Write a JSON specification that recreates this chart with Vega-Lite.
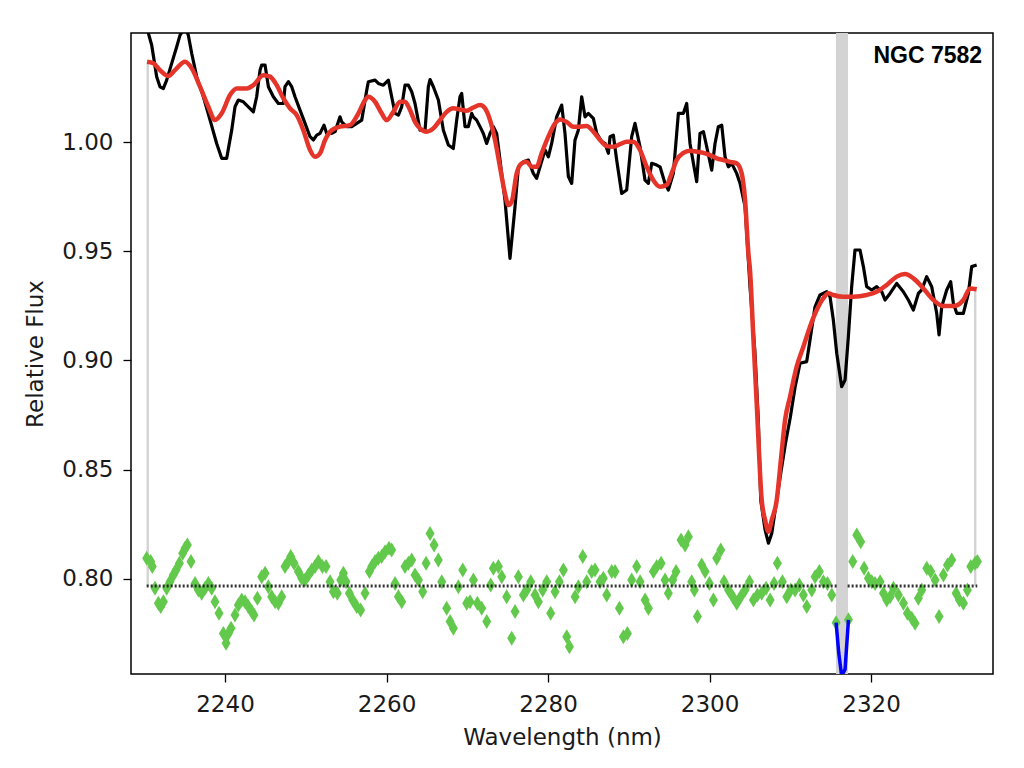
{
  "$schema": "https://vega.github.io/schema/vega-lite/v6.json",
  "width": 862,
  "height": 641,
  "autosize": "none",
  "padding": {"left": 131, "top": 33, "right": 31, "bottom": 94},
  "background": "white",
  "config": {
    "view": {"stroke": "black", "strokeWidth": 1.5},
    "axis": {
      "domain": false, "grid": false,
      "tickColor": "black", "tickWidth": 1.3, "tickSize": 8,
      "labelFont": "DejaVu Sans", "labelFontSize": 23, "labelColor": "#1a1a1a",
      "titleFont": "DejaVu Sans", "titleFontSize": 23, "titleFontWeight": "normal", "titleColor": "#1a1a1a"
    }
  },
  "datasets": {
    "spectrum": [
      {"x":2230.35,"y":1.052},{"x":2230.92,"y":1.0445},{"x":2231.54,"y":1.030},{"x":2231.95,"y":1.0254},{"x":2232.37,"y":1.0246},{"x":2232.78,"y":1.0284},{"x":2233.40,"y":1.0361},{"x":2234.02,"y":1.0437},{"x":2234.43,"y":1.049},{"x":2235.05,"y":1.0525},{"x":2235.46,"y":1.049},{"x":2235.88,"y":1.0406},{"x":2236.49,"y":1.030},{"x":2237.32,"y":1.0208},{"x":2238.15,"y":1.0101},{"x":2238.97,"y":0.9994},{"x":2239.59,"y":0.9926},{"x":2240.21,"y":0.9926},{"x":2240.83,"y":1.0055},{"x":2241.24,"y":1.0162},{"x":2241.65,"y":1.0193},{"x":2242.27,"y":1.0185},{"x":2242.89,"y":1.0162},{"x":2243.51,"y":1.0139},{"x":2243.92,"y":1.0208},{"x":2244.34,"y":1.0330},{"x":2244.54,"y":1.0353},{"x":2244.96,"y":1.0353},{"x":2245.37,"y":1.0254},{"x":2245.99,"y":1.0208},{"x":2246.61,"y":1.0177},{"x":2247.23,"y":1.0177},{"x":2247.43,"y":1.0254},{"x":2247.85,"y":1.0277},{"x":2248.26,"y":1.0254},{"x":2248.67,"y":1.0208},{"x":2249.29,"y":1.0147},{"x":2249.91,"y":1.0086},{"x":2250.53,"y":1.0025},{"x":2250.94,"y":1.0010},{"x":2251.36,"y":1.0032},{"x":2251.77,"y":1.0040},{"x":2252.26,"y":1.0078},{"x":2252.59,"y":1.0040},{"x":2253.21,"y":1.0040},{"x":2253.63,"y":1.0048},{"x":2254.24,"y":1.0116},{"x":2254.45,"y":1.0093},{"x":2255.07,"y":1.0071},{"x":2255.69,"y":1.0071},{"x":2256.31,"y":1.0086},{"x":2256.93,"y":1.0101},{"x":2257.55,"y":1.0238},{"x":2257.75,"y":1.0277},{"x":2258.58,"y":1.0284},{"x":2258.99,"y":1.0269},{"x":2259.61,"y":1.0261},{"x":2260.23,"y":1.0284},{"x":2260.64,"y":1.0208},{"x":2261.06,"y":1.0132},{"x":2261.47,"y":1.0124},{"x":2261.88,"y":1.0162},{"x":2262.29,"y":1.0261},{"x":2262.71,"y":1.0261},{"x":2263.12,"y":1.0231},{"x":2263.53,"y":1.0177},{"x":2264.15,"y":1.0055},{"x":2264.77,"y":1.0055},{"x":2265.18,"y":1.0254},{"x":2265.39,"y":1.0287},{"x":2265.80,"y":1.0254},{"x":2266.42,"y":1.0193},{"x":2267.04,"y":1.0055},{"x":2267.66,"y":0.9987},{"x":2268.27,"y":0.9971},{"x":2268.69,"y":1.0101},{"x":2269.10,"y":1.0208},{"x":2269.31,"y":1.0223},{"x":2269.72,"y":1.0071},{"x":2270.13,"y":1.0071},{"x":2270.55,"y":1.0132},{"x":2270.75,"y":1.0116},{"x":2271.16,"y":1.0101},{"x":2271.58,"y":1.0071},{"x":2271.99,"y":1.0040},{"x":2272.40,"y":0.9994},{"x":2272.82,"y":1.0040},{"x":2273.23,"y":1.0071},{"x":2273.64,"y":1.0040},{"x":2274.05,"y":0.9918},{"x":2274.67,"y":0.9735},{"x":2275.29,"y":0.9468},{"x":2275.91,"y":0.9704},{"x":2276.33,"y":0.9887},{"x":2276.94,"y":0.9910},{"x":2277.56,"y":0.9918},{"x":2278.18,"y":0.9857},{"x":2278.59,"y":0.9834},{"x":2279.01,"y":0.9887},{"x":2279.63,"y":0.9964},{"x":2280.04,"y":0.9933},{"x":2280.45,"y":0.9994},{"x":2281.07,"y":1.0116},{"x":2281.69,"y":1.0170},{"x":2282.10,"y":1.0040},{"x":2282.52,"y":0.9842},{"x":2282.93,"y":0.9811},{"x":2283.34,"y":1.0010},{"x":2283.75,"y":1.0055},{"x":2284.17,"y":1.0208},{"x":2284.58,"y":1.0116},{"x":2284.99,"y":1.0132},{"x":2285.61,"y":1.0109},{"x":2286.03,"y":1.0040},{"x":2286.65,"y":1.0002},{"x":2287.06,"y":0.9994},{"x":2287.47,"y":0.9949},{"x":2287.68,"y":1.0025},{"x":2288.09,"y":1.0032},{"x":2288.50,"y":0.9918},{"x":2289.12,"y":0.9765},{"x":2289.74,"y":0.9781},{"x":2290.36,"y":1.0025},{"x":2290.77,"y":1.0086},{"x":2291.39,"y":0.9979},{"x":2292.01,"y":0.9826},{"x":2292.42,"y":0.9811},{"x":2292.84,"y":0.9903},{"x":2293.46,"y":0.9895},{"x":2293.87,"y":0.9887},{"x":2294.49,"y":0.9811},{"x":2294.90,"y":0.9781},{"x":2295.52,"y":0.9857},{"x":2296.14,"y":1.0132},{"x":2296.76,"y":1.0132},{"x":2297.17,"y":1.0177},{"x":2297.58,"y":0.9994},{"x":2298.00,"y":0.9903},{"x":2298.41,"y":0.9819},{"x":2298.82,"y":1.0040},{"x":2299.24,"y":1.0048},{"x":2299.65,"y":0.9979},{"x":2300.27,"y":0.9872},{"x":2300.68,"y":0.9994},{"x":2301.09,"y":1.0071},{"x":2301.51,"y":1.0078},{"x":2301.92,"y":0.9933},{"x":2302.33,"y":0.9887},{"x":2302.74,"y":0.9903},{"x":2303.36,"y":0.9857},{"x":2303.78,"y":0.9811},{"x":2304.40,"y":0.9704},{"x":2304.81,"y":0.9460},{"x":2305.01,"y":0.9338},{"x":2305.63,"y":0.9033},{"x":2306.04,"y":0.8727},{"x":2306.34,"y":0.8360},{"x":2306.88,"y":0.8224},{"x":2307.29,"y":0.8163},{"x":2307.70,"y":0.8208},{"x":2308.32,"y":0.8361},{"x":2308.80,"y":0.8480},{"x":2309.40,"y":0.8620},{"x":2310.00,"y":0.8740},{"x":2310.60,"y":0.8880},{"x":2311.20,"y":0.8987},{"x":2312.03,"y":0.8995},{"x":2312.44,"y":0.9094},{"x":2313.06,"y":0.9246},{"x":2313.68,"y":0.9300},{"x":2314.51,"y":0.9315},{"x":2314.92,"y":0.9292},{"x":2315.33,"y":0.9185},{"x":2315.75,"y":0.9033},{"x":2316.36,"y":0.8880},{"x":2316.78,"y":0.8911},{"x":2317.19,"y":0.9109},{"x":2317.60,"y":0.9338},{"x":2318.01,"y":0.9506},{"x":2318.63,"y":0.9506},{"x":2319.05,"y":0.9430},{"x":2319.46,"y":0.9338},{"x":2320.08,"y":0.9323},{"x":2320.70,"y":0.9338},{"x":2321.32,"y":0.9315},{"x":2321.73,"y":0.9277},{"x":2322.35,"y":0.9307},{"x":2323.18,"y":0.9353},{"x":2324.00,"y":0.9315},{"x":2324.62,"y":0.9277},{"x":2325.24,"y":0.9231},{"x":2325.86,"y":0.9307},{"x":2326.27,"y":0.9323},{"x":2326.89,"y":0.9384},{"x":2327.51,"y":0.9338},{"x":2328.13,"y":0.9216},{"x":2328.42,"y":0.9117},{"x":2328.75,"y":0.9246},{"x":2329.37,"y":0.9323},{"x":2329.86,"y":0.9361},{"x":2330.19,"y":0.9262},{"x":2330.61,"y":0.9216},{"x":2331.43,"y":0.9216},{"x":2332.05,"y":0.9307},{"x":2332.46,"y":0.9430},{"x":2333.08,"y":0.9437}
    ],
    "model": [
      {"x":2230.35,"y":1.0368},{"x":2231.13,"y":1.0361},{"x":2231.95,"y":1.0330},{"x":2232.99,"y":1.0303},{"x":2233.81,"y":1.0330},{"x":2235.05,"y":1.0368},{"x":2235.88,"y":1.0338},{"x":2236.91,"y":1.0254},{"x":2237.94,"y":1.0162},{"x":2238.76,"y":1.0101},{"x":2239.59,"y":1.0132},{"x":2240.62,"y":1.0216},{"x":2241.45,"y":1.0246},{"x":2242.69,"y":1.0246},{"x":2243.51,"y":1.0261},{"x":2244.75,"y":1.0307},{"x":2245.58,"y":1.0300},{"x":2246.40,"y":1.0261},{"x":2247.23,"y":1.0200},{"x":2248.05,"y":1.0155},{"x":2248.88,"y":1.0124},{"x":2249.70,"y":1.0055},{"x":2250.53,"y":0.9964},{"x":2251.15,"y":0.9933},{"x":2251.77,"y":0.9949},{"x":2252.39,"y":1.0010},{"x":2253.21,"y":1.0055},{"x":2254.24,"y":1.0071},{"x":2255.48,"y":1.0078},{"x":2256.52,"y":1.0132},{"x":2257.34,"y":1.0193},{"x":2257.75,"y":1.0208},{"x":2258.58,"y":1.0185},{"x":2259.40,"y":1.0132},{"x":2260.02,"y":1.0101},{"x":2260.85,"y":1.0139},{"x":2261.68,"y":1.0185},{"x":2262.29,"y":1.0185},{"x":2262.91,"y":1.0147},{"x":2263.53,"y":1.0093},{"x":2264.15,"y":1.0063},{"x":2264.97,"y":1.0048},{"x":2265.80,"y":1.0063},{"x":2266.62,"y":1.0101},{"x":2267.45,"y":1.0139},{"x":2268.27,"y":1.0155},{"x":2269.10,"y":1.0150},{"x":2269.93,"y":1.0144},{"x":2270.75,"y":1.0159},{"x":2271.58,"y":1.0170},{"x":2272.20,"y":1.0155},{"x":2272.82,"y":1.0101},{"x":2273.44,"y":1.0010},{"x":2274.05,"y":0.9887},{"x":2274.67,"y":0.9765},{"x":2275.09,"y":0.9712},{"x":2275.50,"y":0.9727},{"x":2276.12,"y":0.9857},{"x":2276.74,"y":0.9903},{"x":2277.36,"y":0.9910},{"x":2277.98,"y":0.9887},{"x":2278.59,"y":0.9887},{"x":2279.21,"y":0.9949},{"x":2280.04,"y":1.0025},{"x":2280.87,"y":1.0086},{"x":2281.48,"y":1.0104},{"x":2282.31,"y":1.0093},{"x":2283.13,"y":1.0071},{"x":2283.96,"y":1.0071},{"x":2284.79,"y":1.0074},{"x":2285.61,"y":1.0048},{"x":2286.44,"y":1.0010},{"x":2287.26,"y":0.9982},{"x":2288.09,"y":0.9979},{"x":2288.91,"y":0.9991},{"x":2289.74,"y":1.0002},{"x":2290.57,"y":1.0002},{"x":2291.39,"y":0.9964},{"x":2292.22,"y":0.9887},{"x":2293.04,"y":0.9826},{"x":2293.87,"y":0.9796},{"x":2294.69,"y":0.9804},{"x":2295.31,"y":0.9857},{"x":2295.93,"y":0.9918},{"x":2296.76,"y":0.9951},{"x":2297.58,"y":0.9961},{"x":2298.41,"y":0.9956},{"x":2299.24,"y":0.9951},{"x":2300.06,"y":0.9941},{"x":2300.89,"y":0.9926},{"x":2301.71,"y":0.9918},{"x":2302.54,"y":0.9910},{"x":2303.36,"y":0.9903},{"x":2303.98,"y":0.9857},{"x":2304.40,"y":0.9735},{"x":2304.81,"y":0.9491},{"x":2305.01,"y":0.9414},{"x":2305.42,"y":0.9109},{"x":2305.84,"y":0.8804},{"x":2306.46,"y":0.8361},{"x":2306.88,"y":0.8269},{"x":2307.29,"y":0.8216},{"x":2307.70,"y":0.8269},{"x":2308.32,"y":0.8361},{"x":2308.85,"y":0.8550},{"x":2309.35,"y":0.8727},{"x":2309.97,"y":0.8834},{"x":2310.79,"y":0.8972},{"x":2311.62,"y":0.9063},{"x":2312.44,"y":0.9155},{"x":2313.27,"y":0.9231},{"x":2314.09,"y":0.9285},{"x":2314.71,"y":0.9308},{"x":2315.33,"y":0.9300},{"x":2316.57,"y":0.9292},{"x":2317.81,"y":0.9292},{"x":2319.46,"y":0.9300},{"x":2320.70,"y":0.9315},{"x":2321.94,"y":0.9346},{"x":2323.18,"y":0.9384},{"x":2324.21,"y":0.9396},{"x":2325.24,"y":0.9376},{"x":2326.48,"y":0.9330},{"x":2327.72,"y":0.9277},{"x":2328.95,"y":0.9249},{"x":2330.19,"y":0.9249},{"x":2331.43,"y":0.9277},{"x":2332.26,"y":0.9330},{"x":2333.08,"y":0.9326}
    ],
    "residual": [
      {"x":2230.30,"y":0.8094},{"x":2230.80,"y":0.8079},{"x":2231.00,"y":0.8056},{"x":2231.33,"y":0.7957},{"x":2231.75,"y":0.7888},{"x":2232.04,"y":0.7873},{"x":2232.37,"y":0.7895},{"x":2232.78,"y":0.7957},{"x":2233.19,"y":0.7987},{"x":2233.60,"y":0.8018},{"x":2233.94,"y":0.8040},{"x":2234.35,"y":0.8071},{"x":2234.76,"y":0.8117},{"x":2235.05,"y":0.8140},{"x":2235.34,"y":0.8155},{"x":2235.79,"y":0.8079},{"x":2236.29,"y":0.7979},{"x":2236.70,"y":0.7949},{"x":2237.11,"y":0.7934},{"x":2237.53,"y":0.7957},{"x":2237.94,"y":0.7979},{"x":2238.35,"y":0.7957},{"x":2238.76,"y":0.7895},{"x":2239.26,"y":0.7842},{"x":2239.80,"y":0.7750},{"x":2240.13,"y":0.7705},{"x":2240.42,"y":0.7750},{"x":2240.75,"y":0.7773},{"x":2241.24,"y":0.7834},{"x":2241.65,"y":0.7880},{"x":2242.07,"y":0.7903},{"x":2242.48,"y":0.7895},{"x":2242.89,"y":0.7873},{"x":2243.31,"y":0.7850},{"x":2243.59,"y":0.7834},{"x":2244.01,"y":0.7911},{"x":2244.54,"y":0.8010},{"x":2244.96,"y":0.8025},{"x":2245.37,"y":0.7964},{"x":2245.78,"y":0.7918},{"x":2246.20,"y":0.7895},{"x":2246.61,"y":0.7888},{"x":2247.02,"y":0.7918},{"x":2247.43,"y":0.8056},{"x":2247.85,"y":0.8079},{"x":2248.14,"y":0.8102},{"x":2248.55,"y":0.8071},{"x":2249.08,"y":0.8033},{"x":2249.50,"y":0.8002},{"x":2249.91,"y":0.7995},{"x":2250.32,"y":0.8018},{"x":2250.74,"y":0.8040},{"x":2251.15,"y":0.8056},{"x":2251.56,"y":0.8079},{"x":2252.06,"y":0.8056},{"x":2252.51,"y":0.8056},{"x":2253.01,"y":0.7987},{"x":2253.42,"y":0.7941},{"x":2253.91,"y":0.7934},{"x":2254.33,"y":0.7995},{"x":2254.66,"y":0.8025},{"x":2254.99,"y":0.7987},{"x":2255.40,"y":0.7934},{"x":2255.81,"y":0.7903},{"x":2256.31,"y":0.7873},{"x":2256.80,"y":0.7857},{"x":2257.34,"y":0.7934},{"x":2257.88,"y":0.8033},{"x":2258.17,"y":0.8056},{"x":2258.58,"y":0.8079},{"x":2258.99,"y":0.8094},{"x":2259.40,"y":0.8102},{"x":2259.82,"y":0.8124},{"x":2260.31,"y":0.8140},{"x":2260.64,"y":0.8132},{"x":2261.06,"y":0.7979},{"x":2261.47,"y":0.7918},{"x":2261.88,"y":0.7895},{"x":2262.29,"y":0.8056},{"x":2262.71,"y":0.8071},{"x":2263.12,"y":0.8086},{"x":2263.53,"y":0.8018},{"x":2263.95,"y":0.7995},{"x":2264.48,"y":0.7941},{"x":2264.90,"y":0.8071},{"x":2265.39,"y":0.8208},{"x":2265.89,"y":0.8155},{"x":2266.42,"y":0.8086},{"x":2266.84,"y":0.7987},{"x":2267.45,"y":0.7865},{"x":2267.87,"y":0.7804},{"x":2268.28,"y":0.7773},{"x":2268.90,"y":0.7964},{"x":2269.44,"y":0.8040},{"x":2269.93,"y":0.7888},{"x":2270.34,"y":0.7895},{"x":2270.76,"y":0.7995},{"x":2271.25,"y":0.7888},{"x":2271.79,"y":0.7865},{"x":2272.41,"y":0.7804},{"x":2272.90,"y":0.7972},{"x":2273.23,"y":0.8048},{"x":2273.85,"y":0.8056},{"x":2274.27,"y":0.8010},{"x":2274.88,"y":0.7918},{"x":2275.50,"y":0.7728},{"x":2275.92,"y":0.7850},{"x":2276.33,"y":0.8010},{"x":2276.95,"y":0.7926},{"x":2277.36,"y":0.7949},{"x":2277.86,"y":0.7987},{"x":2278.39,"y":0.7926},{"x":2278.81,"y":0.7895},{"x":2279.34,"y":0.7949},{"x":2279.84,"y":0.7987},{"x":2280.33,"y":0.7842},{"x":2280.87,"y":0.7941},{"x":2281.41,"y":0.7987},{"x":2281.90,"y":0.8040},{"x":2282.32,"y":0.7735},{"x":2282.65,"y":0.7689},{"x":2283.35,"y":0.7918},{"x":2283.76,"y":0.7964},{"x":2284.30,"y":0.8102},{"x":2284.79,"y":0.7987},{"x":2285.41,"y":0.8033},{"x":2285.82,"y":0.8040},{"x":2286.44,"y":0.7987},{"x":2286.85,"y":0.8002},{"x":2287.27,"y":0.7926},{"x":2287.89,"y":0.8033},{"x":2288.30,"y":0.8033},{"x":2288.84,"y":0.7865},{"x":2289.33,"y":0.7735},{"x":2289.83,"y":0.7750},{"x":2290.36,"y":0.7995},{"x":2290.98,"y":0.8056},{"x":2291.40,"y":0.7987},{"x":2292.02,"y":0.7903},{"x":2292.43,"y":0.7865},{"x":2293.05,"y":0.8033},{"x":2293.46,"y":0.8056},{"x":2294.00,"y":0.8071},{"x":2294.49,"y":0.7995},{"x":2294.90,"y":0.7934},{"x":2295.44,"y":0.7995},{"x":2295.85,"y":0.8033},{"x":2296.47,"y":0.8178},{"x":2296.97,"y":0.8155},{"x":2297.38,"y":0.8193},{"x":2297.79,"y":0.7987},{"x":2298.12,"y":0.7949},{"x":2298.50,"y":0.7827},{"x":2299.03,"y":0.8063},{"x":2299.45,"y":0.8033},{"x":2299.98,"y":0.7979},{"x":2300.48,"y":0.7903},{"x":2300.89,"y":0.8094},{"x":2301.39,"y":0.8132},{"x":2301.80,"y":0.7987},{"x":2302.34,"y":0.7949},{"x":2302.87,"y":0.7918},{"x":2303.37,"y":0.7888},{"x":2303.86,"y":0.7918},{"x":2304.40,"y":0.7949},{"x":2304.94,"y":0.7987},{"x":2305.43,"y":0.7903},{"x":2305.93,"y":0.7926},{"x":2306.46,"y":0.7934},{"x":2307.00,"y":0.7957},{"x":2307.50,"y":0.7903},{"x":2307.99,"y":0.7979},{"x":2308.40,"y":0.8071},{"x":2309.02,"y":0.7987},{"x":2309.56,"y":0.7918},{"x":2310.05,"y":0.7949},{"x":2310.59,"y":0.7949},{"x":2311.13,"y":0.7972},{"x":2311.62,"y":0.7926},{"x":2312.04,"y":0.7873},{"x":2312.66,"y":0.7949},{"x":2313.07,"y":0.8010},{"x":2313.60,"y":0.8033},{"x":2314.10,"y":0.7987},{"x":2314.60,"y":0.7979},{"x":2315.13,"y":0.7926},{"x":2315.67,"y":0.7799},{"x":2317.20,"y":0.7812},{"x":2317.73,"y":0.8079},{"x":2318.23,"y":0.8201},{"x":2318.72,"y":0.8170},{"x":2319.14,"y":0.8048},{"x":2319.67,"y":0.8002},{"x":2320.09,"y":0.7987},{"x":2320.50,"y":0.7979},{"x":2321.12,"y":0.7987},{"x":2321.53,"y":0.7934},{"x":2321.94,"y":0.7903},{"x":2322.36,"y":0.7918},{"x":2322.77,"y":0.7957},{"x":2323.39,"y":0.7926},{"x":2324.01,"y":0.7888},{"x":2324.50,"y":0.7842},{"x":2325.04,"y":0.7819},{"x":2325.45,"y":0.7796},{"x":2325.86,"y":0.7911},{"x":2326.28,"y":0.7949},{"x":2326.90,"y":0.8048},{"x":2327.39,"y":0.8033},{"x":2327.93,"y":0.7995},{"x":2328.42,"y":0.7827},{"x":2328.96,"y":0.8018},{"x":2329.46,"y":0.8063},{"x":2329.99,"y":0.8086},{"x":2330.53,"y":0.7934},{"x":2330.94,"y":0.7903},{"x":2331.44,"y":0.7888},{"x":2331.93,"y":0.7949},{"x":2332.35,"y":0.8056},{"x":2332.88,"y":0.8071},{"x":2333.17,"y":0.8079}
    ],
    "masked": [
      {"x":2315.67,"y":0.7799},{"x":2316.00,"y":0.7660},{"x":2316.36,"y":0.7555},{"x":2316.78,"y":0.7585},{"x":2317.20,"y":0.7812}
    ],
    "baseline": [
      {"x":2230.30,"x2":2315.80,"y":0.7967},{"x":2317.10,"x2":2333.15,"y":0.7967}
    ],
    "edges": [
      {"x":2230.43,"y":0.7967,"y2":1.0368},{"x":2332.90,"y":0.7967,"y2":0.9326}
    ],
    "mask": [
      {"x":2315.65,"x2":2317.15}
    ],
    "label": [
      {"x":2333.75,"y":1.0362,"label":"NGC 7582"}
    ]
  },
  "layer": [
    {
      "data": {"name": "spectrum"},
      "mark": {"type": "line", "color": "#000000", "strokeWidth": 2.6, "clip": true, "opacity": 0},
      "encoding": {
        "x": {"field": "x", "type": "quantitative", "scale": {"domain": [2228.36, 2335.1], "nice": false, "zero": false}, "title": "Wavelength (nm)",
              "axis": {"values": [2240, 2260, 2280, 2300, 2320], "format": "d", "labelPadding": 11, "titlePadding": 10}},
        "y": {"field": "y", "type": "quantitative", "scale": {"domain": [0.7564, 1.05], "nice": false, "zero": false}, "title": "Relative Flux",
              "axis": {"values": [0.8, 0.85, 0.9, 0.95, 1.0], "format": ".2f", "labelPadding": 10, "titlePadding": 14}}
      }
    },
    {
      "data": {"name": "mask"},
      "mark": {"type": "rect", "color": "#d3d3d3"},
      "encoding": {
        "x": {"field": "x", "type": "quantitative"},
        "x2": {"field": "x2"}
      }
    },
    {
      "data": {"name": "edges"},
      "mark": {"type": "rule", "color": "#d3d3d3", "strokeWidth": 2.4},
      "encoding": {
        "x": {"field": "x", "type": "quantitative"},
        "y": {"field": "y", "type": "quantitative"},
        "y2": {"field": "y2"}
      }
    },
    {
      "data": {"name": "residual"},
      "mark": {"type": "point", "shape": "M0,-1L0.6,0L0,1L-0.6,0Z", "filled": true, "color": "#63c94c", "opacity": 1, "size": 225, "clip": true},
      "encoding": {
        "x": {"field": "x", "type": "quantitative"},
        "y": {"field": "y", "type": "quantitative"}
      }
    },
    {
      "data": {"name": "baseline"},
      "mark": {"type": "rule", "color": "#111111", "strokeWidth": 3, "strokeDash": [2, 2], "opacity": 0.85},
      "encoding": {
        "x": {"field": "x", "type": "quantitative"},
        "x2": {"field": "x2"},
        "y": {"field": "y", "type": "quantitative"}
      }
    },
    {
      "data": {"name": "masked"},
      "mark": {"type": "line", "color": "#0000ff", "strokeWidth": 3.5, "clip": true},
      "encoding": {
        "x": {"field": "x", "type": "quantitative"},
        "y": {"field": "y", "type": "quantitative"}
      }
    },
    {
      "data": {"name": "spectrum"},
      "mark": {"type": "line", "color": "#000000", "strokeWidth": 3.2, "clip": true, "strokeJoin": "round"},
      "encoding": {
        "x": {"field": "x", "type": "quantitative"},
        "y": {"field": "y", "type": "quantitative"}
      }
    },
    {
      "data": {"name": "model"},
      "mark": {"type": "line", "color": "#e5352a", "strokeWidth": 4.5, "clip": true, "interpolate": "monotone"},
      "encoding": {
        "x": {"field": "x", "type": "quantitative"},
        "y": {"field": "y", "type": "quantitative"}
      }
    },
    {
      "data": {"name": "label"},
      "mark": {"type": "text", "align": "right", "baseline": "alphabetic", "font": "Liberation Sans", "fontWeight": "bold", "fontSize": 23, "color": "black"},
      "encoding": {
        "text": {"field": "label"},
        "x": {"field": "x", "type": "quantitative"},
        "y": {"field": "y", "type": "quantitative"}
      }
    }
  ]
}
